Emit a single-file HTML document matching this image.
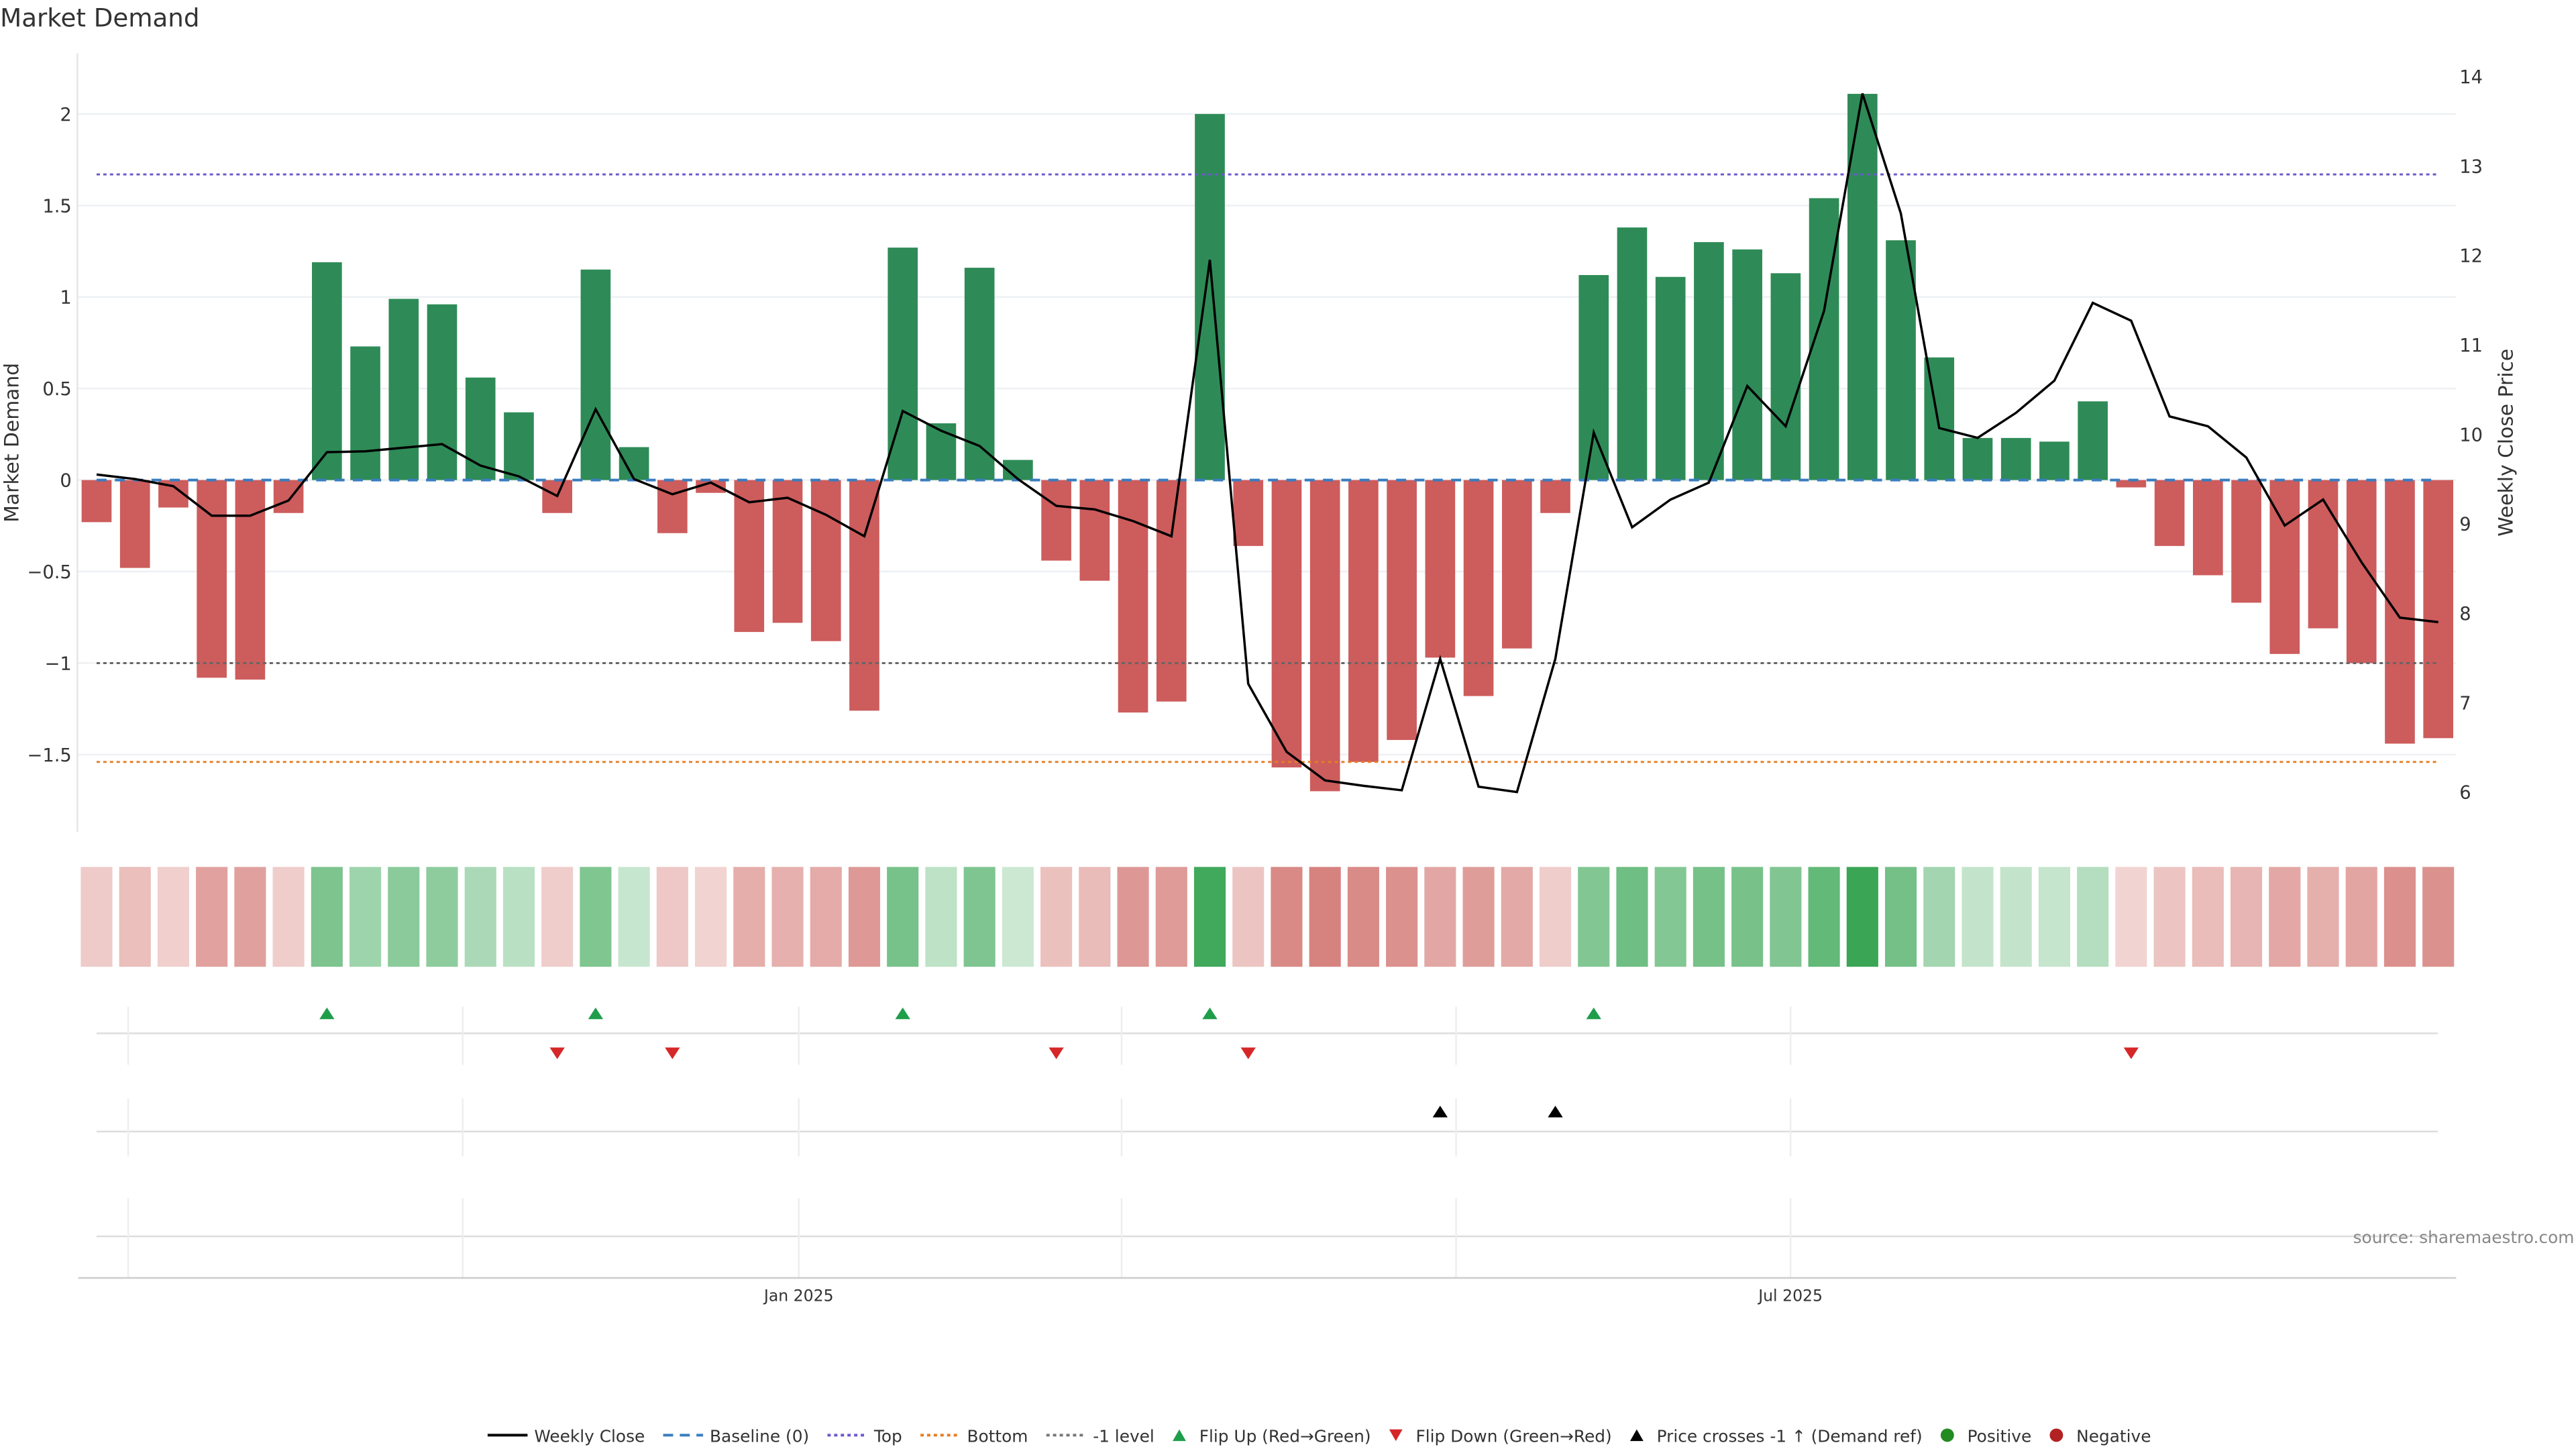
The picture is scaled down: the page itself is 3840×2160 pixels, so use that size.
<!DOCTYPE html>
<html><head><meta charset="utf-8"><style>
html,body{margin:0;padding:0;background:#fff;width:3840px;height:2160px;overflow:hidden}
svg{display:block}
text{font-family:"DejaVu Sans","Liberation Sans",sans-serif;fill:#333}
</style></head><body>
<svg id="chart" width="3840" height="2160" viewBox="0 0 1548 870.8" xmlns="http://www.w3.org/2000/svg">
<text x="0" y="16" font-size="15">Market Demand</text>
<g id="grid"></g>
<g id="bars"></g>
<g id="refs"></g>
<g id="line"></g>
<g id="heat"></g>
<g id="marks"></g>
<g id="axes"></g>
<text transform="translate(11,266) rotate(-90)" font-size="12" text-anchor="middle">Market Demand</text>
<text transform="translate(1510,266) rotate(-90)" font-size="12" text-anchor="middle">Weekly Close Price</text>
<text x="1547" y="747" font-size="10" text-anchor="end" fill="#888" style="fill:#888">source: sharemaestro.com</text>
<g id="legend"></g>
</svg>
<script>
const demand=[-0.23,-0.48,-0.15,-1.08,-1.09,-0.18,1.19,0.73,0.99,0.96,0.56,0.37,-0.18,1.15,0.18,-0.29,-0.07,-0.83,-0.78,-0.88,-1.26,1.27,0.31,1.16,0.11,-0.44,-0.55,-1.27,-1.21,2.0,-0.36,-1.57,-1.70,-1.54,-1.42,-0.97,-1.18,-0.92,-0.18,1.12,1.38,1.11,1.30,1.26,1.13,1.54,2.11,1.31,0.67,0.23,0.23,0.21,0.43,-0.04,-0.36,-0.52,-0.67,-0.95,-0.81,-1.00,-1.44,-1.41];
const price=[9.55,9.5,9.42,9.09,9.09,9.26,9.8,9.81,9.85,9.89,9.65,9.53,9.31,10.28,9.5,9.33,9.46,9.24,9.29,9.1,8.86,10.26,10.04,9.87,9.5,9.2,9.16,9.03,8.86,11.95,7.21,6.45,6.13,6.07,6.02,7.49,6.06,6.0,7.49,10.02,8.96,9.27,9.46,10.54,10.09,11.38,13.81,12.47,10.07,9.96,10.24,10.6,11.47,11.27,10.2,10.09,9.74,8.98,9.27,8.57,7.95,7.9];
const flipUp=[6,13,21,29,39];
const flipDown=[12,15,25,30,53];
const crosses=[35,38];
const leftTicks=[-1.5,-1,-0.5,0,0.5,1,1.5,2];
const rightTicks=[6,7,8,9,10,11,12,13,14];
const refLevels=[1.67,-1.54,-1];
const dateTicks=["Jan 2025","Jul 2025"];
const NS="http://www.w3.org/2000/svg";
function mk(p,t,a){const e=document.createElementNS(NS,t);for(const k in a)e.setAttribute(k,a[k]);p.appendChild(e);return e;}
const xS=i=>58+i*23.07;
const yL=v=>288.5-v*110;
const yR=v=>46+(14-v)*53.75;
const G=id=>document.getElementById(id);
leftTicks.forEach(t=>{
 const l=mk(G('grid'),'line',{x1:47,x2:1476,y1:yL(t),y2:yL(t),stroke:'#eef0f3','stroke-width':1});
 
 
 const tx=mk(G('axes'),'text',{x:43,y:yL(t)+4,'font-size':11,'text-anchor':'end'});
 tx.textContent=String(t).replace('-','\u2212');
 
 
});
rightTicks.forEach(t=>{
 const tx=mk(G('axes'),'text',{x:1478,y:yR(t)+4,'font-size':11});
 tx.textContent=t;
 
 
});
const ax=mk(G('axes'),'line',{x1:46.5,x2:46.5,y1:32,y2:500,stroke:'#e6e6e6'});


demand.forEach((v,i)=>{
 const y0=yL(0),y1=yL(v);
 const r=mk(G('bars'),'rect',{x:xS(i)-9,width:18,y:Math.min(y0,y1),height:Math.abs(y1-y0),fill:v>=0?'#2e8b57':'#cd5c5c'});
 
 
});
const refStyles=[['#6a5acd','2,2'],['#e67e22','2,2'],['#666','2,2']];
refLevels.forEach((v,k)=>{
 const l=mk(G('refs'),'line',{x1:58,x2:1465,y1:yL(v),y2:yL(v),stroke:refStyles[k][0],'stroke-width':1.2,'stroke-dasharray':refStyles[k][1]});
 
 
});
const bl=mk(G('refs'),'line',{x1:58,x2:1465,y1:yL(0),y2:yL(0),stroke:'#3a7dbf','stroke-width':1.6,'stroke-dasharray':'6,5'});


const pl=mk(G('line'),'polyline',{points:price.map((p,i)=>xS(i)+','+yR(p)).join(' '),fill:'none',stroke:'#000','stroke-width':1.4});


function mix(a,b,t){return 'rgb('+a.map((c,j)=>Math.round(c+(b[j]-c)*t)).join(',')+')';}
demand.forEach((v,i)=>{
 const t=Math.min(1,Math.abs(v)/2.1);
 const c=v>=0?mix([212,236,218],[58,166,85],t):mix([242,214,212],[208,112,108],t);
 const r=mk(G('heat'),'rect',{x:xS(i)-9.5,width:19,y:521,height:60,fill:c});
 
 
});
[[621,605,640],[680,660,695],[743,720,768]].forEach(([y,a,b])=>{
 const l=mk(G('marks'),'line',{x1:58,x2:1465,y1:y,y2:y,stroke:'#ddd'});
 
 
 [77,278,480,674,875,1076].forEach(x=>{
  const g=mk(G('marks'),'line',{x1:x,x2:x,y1:a,y2:b,stroke:'#eee'});
  
  
 });
});
const xa=mk(G('marks'),'line',{x1:47,x2:1476,y1:768,y2:768,stroke:'#ccc'});


[480,1076].forEach((x,k)=>{
 const t=mk(G('marks'),'text',{x:x,y:782,'font-size':9.5,'text-anchor':'middle'});
 t.textContent=dateTicks[k];
 
 
});
function tri(x,y,up,c){return mk(G('marks'),'polygon',{points:up?`${x-4.5},${y+3.5} ${x+4.5},${y+3.5} ${x},${y-3.5}`:`${x-4.5},${y-3.5} ${x+4.5},${y-3.5} ${x},${y+3.5}`,fill:c});}
flipUp.forEach(i=>{const p=tri(xS(i),609,true,'#1e9e4a');
 
 });
flipDown.forEach(i=>{const p=tri(xS(i),633,false,'#d62728');
 
 });
crosses.forEach(i=>{const p=tri(xS(i),668,true,'#000');
 
 });
const L=G('legend');let lx=293;const ly=863;
const items=[['line','#000','','Weekly Close'],['line','#3a7dbf','6,4','Baseline (0)'],['line','#6a5acd','2,2','Top'],['line','#e67e22','2,2','Bottom'],['line','#777','2,2','-1 level'],['up','#1e9e4a','','Flip Up (Red\u2192Green)'],['down','#d62728','','Flip Down (Green\u2192Red)'],['up','#000','','Price crosses -1 \u2191 (Demand ref)'],['dot','#228b22','','Positive'],['dot','#b22222','','Negative']];
items.forEach(([k,c,d,lab])=>{
 const g=mk(L,'g',{});
 
 
 if(k==='line'){mk(g,'line',{x1:lx,x2:lx+24,y1:ly-0.5,y2:ly-0.5,stroke:c,'stroke-width':1.6,'stroke-dasharray':d});lx+=28;}
 else if(k==='dot'){mk(g,'circle',{cx:lx+4,cy:ly-0.5,r:4,fill:c});lx+=16;}
 else{const up=k==='up';mk(g,'polygon',{points:up?`${lx},${ly+3} ${lx+8},${ly+3} ${lx+4},${ly-4}`:`${lx},${ly-4} ${lx+8},${ly-4} ${lx+4},${ly+3}`,fill:c});lx+=16;}
 const t=mk(g,'text',{x:lx,y:ly+3.5,'font-size':10});t.textContent=lab;
 lx+=t.getComputedTextLength()+11;
});
</script>
</body></html>
